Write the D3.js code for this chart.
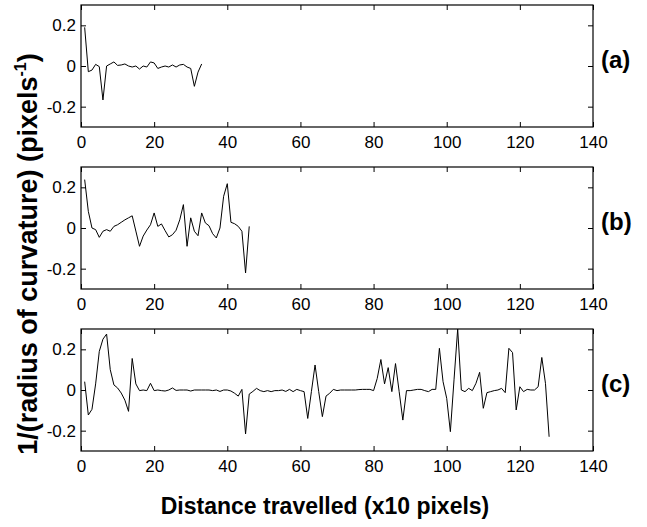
<!DOCTYPE html>
<html>
<head>
<meta charset="utf-8">
<script src="https://cdn.jsdelivr.net/npm/d3@7"></script>
<style>
  body { margin: 0; background: #fff; }
  svg { display: block; font-family: Arial, "Liberation Sans", sans-serif; }
</style>
</head>
<body>
<svg id="chart" width="647" height="527"></svg>
<script>
// curvature values, one per step of 10 pixels (step 1, 2, 3 ...)
const curveA = [0.19, -0.028, -0.02, 0.008, -0.003, -0.167, 0, 0.01, 0.02, 0.003,
  0.005, 0.01, 0, -0.005, 0, -0.015, 0, -0.005, 0.02, 0.015,
  -0.012, -0.005, 0, -0.005, 0.005, -0.005, 0.005, 0.008, -0.005, -0.012,
  -0.10, -0.03, 0.01];

const curveB = [0.238, 0.082, 0, -0.008, -0.046, -0.016, -0.008, -0.016, 0.008, 0.016,
  0.028, 0.04, 0.05, 0.06, -0.015, -0.09, -0.04, -0.01, 0.016, 0.074,
  0.008, 0.02, -0.013, -0.044, -0.033, -0.011, 0.04, 0.115, -0.09, 0.05,
  -0.016, -0.038, 0.074, 0.025, 0.011, -0.028, -0.049, 0, 0.156, 0.218,
  0.028, 0.021, 0.008, -0.016, -0.221, 0.008];

const curveC = [0.041, -0.123, -0.095, 0.03, 0.19, 0.25, 0.275, 0.1, 0.025, 0.01,
  -0.015, -0.05, -0.105, 0.155, 0.03, -0.003, 0, -0.003, 0.033, -0.003,
  0, -0.003, -0.005, 0, 0.01, -0.002, 0, 0, 0, -0.005,
  0, 0, 0, 0, 0, -0.003, 0, -0.007, 0, 0,
  -0.005, -0.016, -0.03, 0.003, -0.216, -0.02, -0.007, 0.008, -0.003, -0.008,
  -0.003, -0.008, -0.003, -0.003, 0, -0.007, 0.003, -0.008, 0.003, -0.003,
  -0.008, -0.14, -0.008, 0.123, -0.008, -0.131, -0.03, -0.016, 0.003, -0.003,
  0, 0, 0, 0, 0, 0.002, 0.003, 0.003, 0.003, -0.003,
  0.057, 0.15, 0.03, 0.11, -0.008, 0.13, -0.008, -0.148, -0.003, -0.003,
  0, 0.003, 0.003, -0.003, -0.008, 0.003, 0.003, 0.205, 0.041, -0.041,
  -0.205, 0.05, 0.3, 0, -0.008, 0.008, -0.003, 0.033, 0.087, -0.09,
  -0.013, -0.008, -0.003, 0, 0.008, -0.013, 0.205, 0.184, -0.098, 0.016,
  -0.008, 0.003, 0, 0, 0.016, 0.16, 0.033, -0.23];

const panelNames = ['(a)', '(b)', '(c)'];
const xTicks = [0, 20, 40, 60, 80, 100, 120, 140];
const yTicks = [-0.2, 0, 0.2];

const marginLeft = 81, marginRight = 593;
const panelTop = [5, 167, 329];
const panelH = 122;

const svg = d3.select('#chart');

const x = d3.scaleLinear().domain([0, 140]).range([marginLeft, marginRight]);

[curveA, curveB, curveC].forEach((vals, i) => {
  const top = panelTop[i];
  const y = d3.scaleLinear().domain([-0.3, 0.3]).range([top + panelH, top]);
  const g = svg.append('g');

  g.append('clipPath').attr('id', 'clip' + i)
    .append('rect').attr('x', marginLeft).attr('y', top)
    .attr('width', marginRight - marginLeft).attr('height', panelH);

  // bottom axis with labels, ticks pointing in
  g.append('g')
    .attr('transform', `translate(0,${top + panelH})`)
    .call(d3.axisBottom(x).tickValues(xTicks).tickSizeInner(-5).tickSizeOuter(0).tickPadding(9))
    .call(a => a.select('.domain').remove());
  // top axis, ticks only
  g.append('g')
    .attr('transform', `translate(0,${top})`)
    .call(d3.axisTop(x).tickValues(xTicks).tickSizeInner(-5).tickSizeOuter(0).tickFormat(''))
    .call(a => a.select('.domain').remove());
  // left axis
  g.append('g')
    .attr('transform', `translate(${marginLeft},0)`)
    .call(d3.axisLeft(y).tickValues(yTicks).tickSizeInner(-5).tickSizeOuter(0).tickPadding(5)
      .tickFormat(d => d === 0 ? '0' : (d < 0 ? '-' : '') + Math.abs(d).toFixed(1)))
    .call(a => a.select('.domain').remove());
  // right axis
  g.append('g')
    .attr('transform', `translate(${marginRight},0)`)
    .call(d3.axisRight(y).tickValues(yTicks).tickSizeInner(-5).tickSizeOuter(0).tickFormat(''))
    .call(a => a.select('.domain').remove());

  g.selectAll('.tick text').attr('font-size', 17).attr('font-family', null).attr('fill', '#000');
  g.selectAll('.tick line').attr('stroke', '#000');

  g.append('rect')
    .attr('x', marginLeft).attr('y', top)
    .attr('width', marginRight - marginLeft).attr('height', panelH)
    .attr('fill', 'none').attr('stroke', '#000').attr('stroke-width', 1.2);

  const line = d3.line().x((d, j) => x(j + 1)).y(d => y(d));
  g.append('path')
    .datum(vals)
    .attr('clip-path', `url(#clip${i})`)
    .attr('d', line)
    .attr('fill', 'none')
    .attr('stroke', '#000')
    .attr('stroke-width', 1);

  g.append('text')
    .attr('x', 601).attr('y', y(0))
    .attr('dy', '0.1em')
    .attr('font-size', 24).attr('font-weight', 'bold')
    .text(panelNames[i]);
});

// axis titles
svg.append('text')
  .attr('x', 325).attr('y', 514)
  .attr('text-anchor', 'middle')
  .attr('font-size', 23).attr('font-weight', 'bold')
  .text('Distance travelled (x10 pixels)');

const yTitle = svg.append('text')
  .attr('transform', 'translate(37,254) rotate(-90)')
  .attr('text-anchor', 'middle')
  .attr('font-size', 27).attr('font-weight', 'bold');
yTitle.append('tspan').text('1/(radius of curvature) (pixels');
yTitle.append('tspan').attr('font-size', 16).attr('dy', -11).text('-1');
yTitle.append('tspan').attr('dy', 11).text(')');
</script>
</body>
</html>
